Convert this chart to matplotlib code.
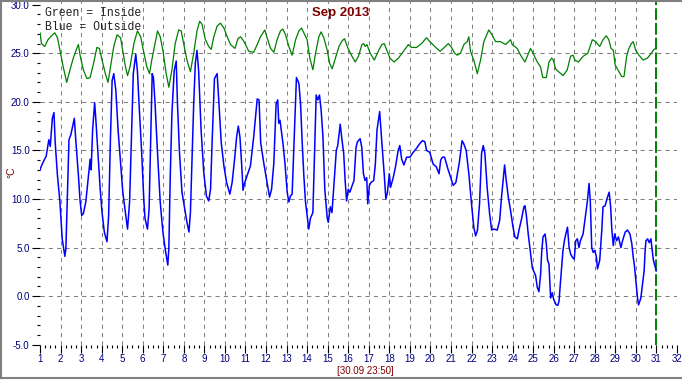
import numpy as np
import matplotlib
matplotlib.use("Agg")
import matplotlib.pyplot as plt
from matplotlib.lines import Line2D

# outside temperature (blue), day of month -> degC
out_days = [1.00, 1.07, 1.20, 1.30, 1.43, 1.50, 1.60, 1.68, 1.74, 1.85, 1.97, 2.08, 2.21, 2.26,
            2.34, 2.41, 2.50, 2.62, 2.67, 2.75, 2.87, 2.95, 3.03, 3.11, 3.23, 3.36, 3.44, 3.49,
            3.56, 3.66, 3.72, 3.82, 3.93, 4.02, 4.13, 4.26, 4.34, 4.43, 4.51, 4.59, 4.69, 4.80,
            4.92, 5.03, 5.16, 5.26, 5.36, 5.46, 5.54, 5.66, 5.74, 5.82, 5.95, 6.05, 6.11, 6.23,
            6.31, 6.39, 6.46, 6.52, 6.60, 6.72, 6.85, 6.98, 7.09, 7.22, 7.27, 7.34, 7.42, 7.53,
            7.63, 7.69, 7.79, 7.91, 8.02, 8.15, 8.25, 8.32, 8.40, 8.48, 8.56, 8.64, 8.72, 8.84,
            8.97, 9.10, 9.21, 9.30, 9.38, 9.49, 9.62, 9.71, 9.82, 9.95, 10.08, 10.24, 10.35,
            10.47, 10.57, 10.65, 10.73, 10.81, 10.88, 10.95, 11.08, 11.24, 11.40, 11.57, 11.66,
            11.74, 11.89, 12.05, 12.17, 12.27, 12.38, 12.49, 12.57, 12.62, 12.68, 12.82, 12.92,
            13.03, 13.11, 13.19, 13.27, 13.35, 13.43, 13.48, 13.60, 13.68, 13.76, 13.84, 13.92,
            14.00, 14.08, 14.16, 14.28, 14.38, 14.44, 14.52, 14.60, 14.68, 14.77, 14.86, 14.98,
            15.03, 15.13, 15.21, 15.32, 15.42, 15.49, 15.61, 15.70, 15.78, 15.85, 15.92, 16.00,
            16.08, 16.16, 16.28, 16.38, 16.45, 16.58, 16.66, 16.74, 16.82, 16.90, 16.95, 17.03,
            17.11, 17.24, 17.32, 17.40, 17.53, 17.64, 17.75, 17.83, 17.91, 18.00, 18.06, 18.19,
            18.30, 18.43, 18.51, 18.60, 18.71, 18.84, 19.00, 19.16, 19.32, 19.48, 19.61, 19.73,
            19.81, 19.97, 20.13, 20.29, 20.42, 20.50, 20.58, 20.69, 20.85, 21.00, 21.11, 21.24,
            21.41, 21.54, 21.62, 21.74, 21.87, 22.00, 22.11, 22.20, 22.29, 22.39, 22.49, 22.57,
            22.65, 22.76, 22.88, 22.98, 23.09, 23.25, 23.37, 23.46, 23.54, 23.61, 23.69, 23.79,
            23.90, 24.02, 24.11, 24.23, 24.31, 24.42, 24.55, 24.60, 24.67, 24.76, 24.88, 24.96,
            25.12, 25.20, 25.28, 25.36, 25.42, 25.48, 25.58, 25.64, 25.70, 25.77, 25.85, 25.93,
            26.00, 26.12, 26.20, 26.26, 26.32, 26.40, 26.45, 26.52, 26.59, 26.67, 26.75, 26.83,
            26.91, 27.00, 27.07, 27.15, 27.23, 27.30, 27.43, 27.56, 27.64, 27.72, 27.78, 27.85,
            27.92, 28.00, 28.08, 28.13, 28.24, 28.34, 28.40, 28.50, 28.62, 28.70, 28.77, 28.83,
            28.90, 28.97, 29.06, 29.15, 29.27, 29.35, 29.48, 29.59, 29.71, 29.80, 29.87, 29.92,
            30.00, 30.08, 30.13, 30.24, 30.32, 30.40, 30.45, 30.49, 30.57, 30.65, 30.73, 30.78,
            30.85, 30.90, 30.99]
out_temp = [13.0, 13.4, 14.0, 14.4, 16.1, 15.4, 18.3, 18.9, 15.8, 12.4, 9.7, 5.9, 4.1, 4.9,
            11.0, 16.1, 16.6, 17.8, 18.3, 15.8, 12.4, 9.8, 8.3, 8.5, 9.7, 12.4, 14.1, 13.0,
            17.1, 19.9, 18.1, 14.7, 11.0, 8.6, 6.6, 5.6, 8.3, 16.4, 22.2, 22.9, 21.2, 17.1,
            13.7, 10.7, 8.6, 6.9, 9.7, 17.1, 22.9, 24.9, 23.2, 19.8, 14.7, 10.0, 8.0, 6.9,
            9.0, 16.4, 22.9, 22.5, 19.8, 14.7, 9.7, 6.6, 4.9, 3.2, 4.9, 12.4, 18.8, 23.2,
            24.2, 19.8, 14.7, 10.7, 9.3, 7.6, 6.6, 8.6, 14.1, 19.8, 24.0, 25.3, 23.2, 17.1,
            12.7, 10.3, 9.8, 11.0, 16.1, 22.4, 22.9, 19.8, 15.8, 13.4, 11.7, 10.5, 11.7,
            14.1, 16.4, 17.5, 16.4, 13.7, 10.9, 11.6, 12.4, 13.4, 16.4, 20.3, 20.2,
            15.8, 13.7, 11.7, 10.2, 11.0, 13.7, 19.8, 20.2, 17.8, 18.1, 15.8, 13.7,
            10.7, 9.7, 10.3, 10.5, 15.1, 19.8, 22.5, 21.9, 19.8, 15.8, 12.4, 9.7,
            8.3, 6.9, 8.0, 8.6, 16.4, 20.7, 20.2, 20.7, 19.2, 16.4, 11.0, 8.0,
            7.6, 9.2, 8.6, 11.9, 15.0, 15.5, 17.7, 16.0, 14.7, 11.9, 9.8, 11.0,
            10.7, 11.2, 11.9, 15.3, 15.9, 16.2, 15.3, 12.6, 11.9, 12.2, 9.5, 11.4,
            11.7, 11.9, 13.6, 17.1, 19.0, 15.7, 12.6, 10.0, 10.7, 12.6, 11.2, 12.2,
            13.3, 15.0, 15.5, 14.1, 13.5, 14.3, 14.3, 14.8, 15.2, 15.7, 16.0, 15.9,
            15.0, 14.8, 13.6, 13.3, 12.6, 14.0, 14.3, 14.3, 13.1, 12.1, 11.4, 11.7,
            13.8, 16.0, 15.7, 15.0, 12.6, 9.5, 7.1, 6.2, 6.8, 9.5, 14.7, 15.5,
            14.7, 11.2, 8.5, 6.8, 6.9, 6.8, 7.8, 10.2, 11.9, 13.5, 11.9, 10.2,
            8.8, 7.1, 6.1, 5.9, 6.8, 7.8, 9.2, 9.3, 8.3, 6.4, 4.3, 2.9,
            2.1, 0.9, 0.45, 2.2, 4.7, 6.1, 6.4, 5.4, 3.7, 3.3, -0.2, 0.35,
            -0.35, -0.9, -0.95, -0.5, 1.2, 3.3, 4.7, 5.7, 6.4, 7.1, 5.0, 4.3,
            4.0, 3.8, 5.7, 5.9, 5.0, 5.7, 6.4, 8.5, 9.8, 11.6, 9.8, 5.0,
            4.5, 4.7, 4.0, 2.8, 3.7, 6.8, 9.2, 9.3, 10.2, 10.7, 9.2, 6.8,
            5.2, 6.4, 5.7, 6.1, 5.0, 5.7, 6.6, 6.8, 6.4, 5.4, 4.0, 3.3,
            1.6, -0.2, -0.9, -0.2, 1.2, 2.6, 4.7, 5.7, 5.9, 5.5, 5.9, 5.0,
            3.7, 3.3, 2.6]

# inside temperature (green)
in_days = [1.00, 1.07, 1.23, 1.39, 1.56, 1.72, 1.85, 1.97, 2.13, 2.30, 2.46, 2.62, 2.79, 2.87,
           2.95, 3.11, 3.28, 3.44, 3.61, 3.77, 3.89, 4.02, 4.18, 4.31, 4.43, 4.59, 4.75, 4.92,
           5.05, 5.16, 5.26, 5.38, 5.57, 5.74, 5.90, 6.03, 6.20, 6.33, 6.44, 6.60, 6.72, 6.85,
           6.98, 7.14, 7.27, 7.42, 7.58, 7.75, 7.87, 7.99, 8.15, 8.32, 8.48, 8.64, 8.77, 8.88,
           9.05, 9.21, 9.33, 9.46, 9.62, 9.78, 9.95, 10.11, 10.27, 10.49, 10.63, 10.76, 10.93,
           11.00, 11.16, 11.40, 11.57, 11.73, 11.94, 12.05, 12.22, 12.38, 12.54, 12.70, 12.82,
           12.95, 13.11, 13.27, 13.44, 13.60, 13.73, 13.84, 14.00, 14.13, 14.28, 14.41, 14.57,
           14.68, 14.81, 14.98, 15.09, 15.22, 15.38, 15.55, 15.71, 15.82, 15.97, 16.18, 16.34,
           16.50, 16.67, 16.75, 16.83, 16.91, 17.07, 17.27, 17.48, 17.64, 17.75, 17.88, 18.03,
           18.23, 18.44, 18.69, 18.93, 19.08, 19.32, 19.57, 19.81, 19.97, 20.21, 20.47, 20.63,
           20.87, 21.03, 21.18, 21.30, 21.46, 21.63, 21.79, 21.87, 21.95, 22.11, 22.28, 22.44,
           22.60, 22.84, 23.00, 23.17, 23.41, 23.66, 23.90, 23.98, 24.22, 24.39, 24.60, 24.87,
           25.04, 25.20, 25.36, 25.47, 25.64, 25.77, 25.90, 25.98, 26.09, 26.29, 26.46, 26.66,
           26.82, 26.94, 27.03, 27.20, 27.44, 27.66, 27.77, 27.88, 28.04, 28.24, 28.40, 28.56,
           28.68, 28.79, 28.90, 28.99, 29.15, 29.31, 29.42, 29.55, 29.66, 29.78, 29.87, 29.99,
           30.15, 30.35, 30.56, 30.75, 30.88, 30.99]
in_temp = [27.1, 26.0, 25.7, 26.4, 26.8, 27.1, 26.6, 25.3, 23.6, 22.0, 23.3, 24.5, 25.5, 25.9,
           24.8, 23.3, 22.4, 22.5, 24.0, 25.6, 25.5, 24.3, 22.9, 22.0, 23.6, 25.7, 26.9, 26.6,
           25.0, 23.6, 22.7, 23.6, 26.0, 27.3, 26.7, 25.3, 23.6, 22.9, 24.3, 26.0, 27.3, 26.7,
           25.3, 22.9, 21.5, 23.3, 26.0, 27.4, 27.3, 26.0, 24.3, 23.1, 25.0, 27.3, 28.3, 28.0,
           26.4, 25.7, 25.4, 26.7, 27.8, 28.1, 27.6, 26.7, 25.9, 25.5, 26.5, 26.7, 26.2,
           25.9, 25.2, 25.1, 25.9, 26.7, 27.4, 26.6, 25.5, 25.1, 26.4, 27.3, 27.5,
           26.9, 25.7, 24.8, 26.4, 27.3, 27.6, 27.1, 26.4, 24.5, 23.3, 25.0, 26.7,
           27.2, 26.6, 25.3, 24.0, 23.4, 24.5, 25.7, 26.3, 26.5, 25.6, 24.7, 24.1,
           24.7, 25.9, 26.0, 25.7, 25.9, 25.0, 24.3, 25.3, 25.9, 26.0, 25.3, 24.5,
           24.1, 24.5, 25.2, 25.9, 25.6, 25.6, 26.0, 26.6, 26.2, 25.7, 25.2, 25.5,
           26.0, 25.6, 25.0, 24.8, 25.0, 25.9, 26.2, 26.7, 25.2, 24.3, 22.9, 24.3,
           26.2, 27.4, 26.9, 26.2, 26.2, 25.9, 26.4, 25.9, 25.5, 24.8, 24.1, 25.5,
           24.8, 24.1, 23.6, 22.5, 22.5, 24.1, 24.5, 24.3, 23.4, 23.0, 22.7, 23.3,
           24.7, 24.8, 24.3, 24.1, 24.7, 25.0, 25.7, 26.4, 26.2, 25.7, 26.4, 26.8,
           26.4, 25.5, 25.3, 23.8, 23.2, 22.6, 22.6, 24.7, 25.5, 26.0, 26.2, 25.3,
           24.8, 24.3, 24.5, 25.0, 25.4, 25.5]

y_ticks = [-5, 0, 5, 10, 15, 20, 25, 30]
x_ticks = list(range(1, 33))
grid_y = [0, 5, 10, 15, 20, 25]
grid_x = list(range(2, 31))
month_end = 31

navy = '#000080'
maroon = '#800000'
W, H = 682, 380

fig = plt.figure(figsize=(W / 100, H / 100), dpi=100)
fig.patch.set_facecolor('white')
ax = fig.add_axes([40 / W, (H - 344.7) / H, 637 / W, 343.7 / H])

for s in ax.spines.values():
    s.set_visible(False)

for g in grid_y:
    ax.axhline(g, color='#808080', lw=0.75, ls=(0, (4, 4)), zorder=1)
for g in grid_x:
    ax.axvline(g, color='#808080', lw=0.75, ls=(0, (4, 4)), zorder=1)
ax.axvline(month_end, color='#008000', lw=1.4, ls=(0, (6, 1.6)), zorder=1)

ax.plot(in_days, in_temp, color='#008000', lw=0.9, zorder=3)
ax.plot(out_days, out_temp, color='#0000ff', lw=1.1, zorder=4)

ax.set_xlim(1, 32)
ax.set_ylim(-5, 30.38)
ax.set_yticks(y_ticks)
ax.set_yticklabels(['%.1f' % v for v in y_ticks])
ax.set_yticks(np.arange(-5, 30.5, 1), minor=True)
ax.set_xticks(x_ticks)
ax.set_xticklabels([str(v) for v in x_ticks])
ax.set_xticks(np.arange(1, 32.01, 0.25), minor=True)

ax.tick_params(which='major', length=5.5, width=0.8, color='black', pad=2,
               labelsize=7, labelcolor=navy)
ax.tick_params(axis='x', which='major', pad=1.2)
ax.tick_params(which='minor', length=2.5, width=0.8, color='black')
for lab in ax.get_xticklabels() + ax.get_yticklabels():
    lab.set_family('Liberation Sans')

fig.text(45 / W, 1 - 13 / H, 'Green = Inside', family='Liberation Mono', size=8.3,
         color='#202020', va='center', ha='left')
fig.text(45 / W, 1 - 27 / H, 'Blue = Outside', family='Liberation Mono', size=8.3,
         color='#202020', va='center', ha='left')
fig.text(341 / W, 1 - 13 / H, 'Sep 2013', family='Liberation Sans', weight='bold',
         size=9.5, color=maroon, ha='center', va='center')
fig.text(11 / W, 1 - 172 / H, '°C', family='Liberation Sans', size=7.5, color=maroon,
         rotation=90, ha='center', va='center')
fig.text(365 / W, 1 - 371 / H, '[30.09 23:50]', family='Liberation Sans', size=7,
         color=maroon, ha='center', va='center')

# thin grey frame round the picture
fc = '#808080'
fig.add_artist(Line2D([0, 1], [1 - 0.8 / H, 1 - 0.8 / H], transform=fig.transFigure, color=fc, lw=1.5))
fig.add_artist(Line2D([0.8 / W, 0.8 / W], [1, 2 / H], transform=fig.transFigure, color=fc, lw=1.5))
fig.add_artist(Line2D([0, 1], [2.3 / H, 2.3 / H], transform=fig.transFigure, color=fc, lw=1.5))

fig.savefig('out.png', dpi=100, facecolor='white')
